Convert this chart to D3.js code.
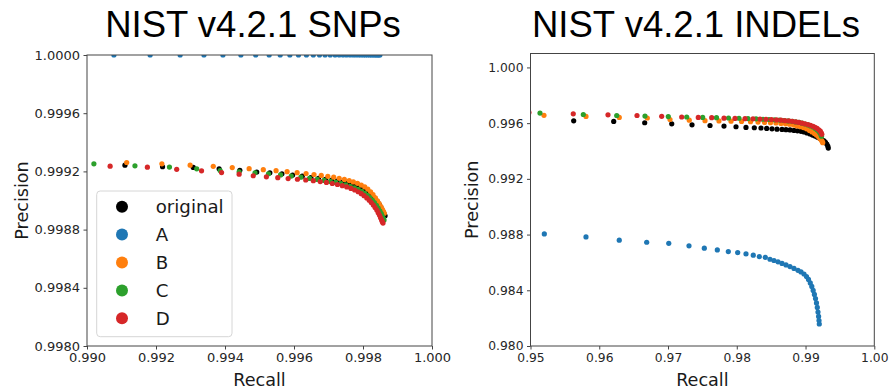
<!DOCTYPE html>
<html>
<head>
<meta charset="utf-8">
<script src="https://cdn.jsdelivr.net/npm/d3@7"></script>
<style>
  html, body { margin: 0; padding: 0; background: #fff; }
  svg { display: block; }
</style>
</head>
<body>
<div id="chart"></div>
<script>
const seriesNames = ['original', 'A', 'B', 'C', 'D'];

// SNP panel, points are [recall, precision]
const snpOriginal = [
  [0.99110, 0.999243], [0.99219, 0.999232], [0.99308, 0.999227], [0.99383, 0.999218], [0.99443, 0.999208],
  [0.99492, 0.999196], [0.99530, 0.999190], [0.99565, 0.999183], [0.99596, 0.999175], [0.99624, 0.999167],
  [0.99649, 0.999158], [0.99671, 0.999152], [0.99691, 0.999146], [0.99709, 0.999140], [0.99725, 0.999134],
  [0.99740, 0.999127], [0.99754, 0.999119], [0.99767, 0.999111], [0.99779, 0.999100], [0.99790, 0.999090],
  [0.99800, 0.999079], [0.99809, 0.999066], [0.99817, 0.999052], [0.99824, 0.999038], [0.99831, 0.999022],
  [0.99837, 0.999005], [0.99843, 0.998987], [0.99848, 0.998969], [0.99852, 0.998951], [0.99856, 0.998933],
  [0.99859, 0.998918], [0.99862, 0.998905], [0.99864, 0.998895]
];
const snpA = [
  [0.99078, 1], [0.99183, 1], [0.99270, 1], [0.99339, 1], [0.99394, 1], [0.99446, 1], [0.99489, 1],
  [0.99528, 1], [0.99560, 1], [0.99588, 1], [0.99613, 1], [0.99636, 1], [0.99656, 1], [0.99674, 1],
  [0.99690, 1], [0.99705, 1], [0.99719, 1], [0.99731, 1], [0.99742, 1], [0.99752, 1], [0.99762, 1],
  [0.99771, 1], [0.99779, 1], [0.99787, 1], [0.99794, 1], [0.99801, 1], [0.99807, 1], [0.99813, 1],
  [0.99819, 1], [0.99824, 1], [0.99829, 1], [0.99834, 1], [0.99838, 1], [0.99842, 1], [0.99846, 1],
  [0.99849, 1]
];
const snpB = [
  [0.99115, 0.999261], [0.99217, 0.999252], [0.99299, 0.999243], [0.99366, 0.999235], [0.99421, 0.999226],
  [0.99470, 0.999219], [0.99511, 0.999212], [0.99548, 0.999205], [0.99580, 0.999198], [0.99609, 0.999191],
  [0.99635, 0.999185], [0.99658, 0.999178], [0.99679, 0.999172], [0.99698, 0.999166], [0.99715, 0.999160],
  [0.99731, 0.999153], [0.99746, 0.999145], [0.99760, 0.999137], [0.99772, 0.999128], [0.99784, 0.999118],
  [0.99795, 0.999106], [0.99805, 0.999093], [0.99814, 0.999078], [0.99822, 0.999060], [0.99829, 0.999040],
  [0.99836, 0.999018], [0.99842, 0.998997], [0.99847, 0.998978], [0.99852, 0.998958], [0.99856, 0.998940],
  [0.99859, 0.998926], [0.99862, 0.998912]
];
const snpC = [
  [0.99020, 0.999252], [0.99139, 0.999238], [0.99239, 0.999230], [0.99318, 0.999218], [0.99386, 0.999206],
  [0.99441, 0.999197], [0.99487, 0.999190], [0.99526, 0.999184], [0.99561, 0.999176], [0.99592, 0.999168],
  [0.99620, 0.999160], [0.99645, 0.999152], [0.99667, 0.999145], [0.99687, 0.999138], [0.99705, 0.999131],
  [0.99721, 0.999124], [0.99736, 0.999116], [0.99750, 0.999107], [0.99763, 0.999097], [0.99775, 0.999087],
  [0.99786, 0.999076], [0.99796, 0.999063], [0.99805, 0.999049], [0.99813, 0.999035], [0.99820, 0.999020],
  [0.99827, 0.999003], [0.99833, 0.998985], [0.99839, 0.998966], [0.99844, 0.998947], [0.99849, 0.998928],
  [0.99853, 0.998910], [0.99856, 0.998893], [0.99859, 0.998878], [0.99861, 0.998866]
];
const snpD = [
  [0.99067, 0.999236], [0.99175, 0.999229], [0.99260, 0.999214], [0.99332, 0.999204], [0.99390, 0.999192],
  [0.99441, 0.999181], [0.99482, 0.999170], [0.99520, 0.999163], [0.99553, 0.999157], [0.99583, 0.999151],
  [0.99610, 0.999146], [0.99634, 0.999141], [0.99656, 0.999136], [0.99676, 0.999130], [0.99694, 0.999124],
  [0.99711, 0.999117], [0.99726, 0.999110], [0.99740, 0.999102], [0.99753, 0.999093], [0.99765, 0.999083],
  [0.99776, 0.999072], [0.99786, 0.999060], [0.99795, 0.999047], [0.99803, 0.999033], [0.99811, 0.999018],
  [0.99818, 0.999002], [0.99824, 0.998986], [0.99830, 0.998969], [0.99835, 0.998952], [0.99840, 0.998934],
  [0.99844, 0.998916], [0.99848, 0.998898], [0.99851, 0.998881], [0.99854, 0.998866], [0.99856, 0.998854],
  [0.99858, 0.998845]
];

// INDEL panel, points are [recall, precision]
const indelOriginal = [
  [0.95628, 0.99617], [0.96210, 0.99612], [0.96661, 0.99603], [0.97054, 0.99595], [0.97349, 0.99588],
  [0.97611, 0.99583], [0.97814, 0.99579], [0.97989, 0.99574], [0.98134, 0.99569], [0.98255, 0.99567],
  [0.98352, 0.99565], [0.98435, 0.99562], [0.98512, 0.99559], [0.98585, 0.99557], [0.98658, 0.99555],
  [0.98716, 0.99553], [0.98774, 0.99551], [0.98832, 0.99548], [0.98883, 0.99545], [0.98934, 0.99541],
  [0.98978, 0.99537], [0.99021, 0.99530], [0.99065, 0.99522], [0.99101, 0.99514], [0.99138, 0.99507],
  [0.99174, 0.99499], [0.99210, 0.99490], [0.99239, 0.99481], [0.99269, 0.99472], [0.99290, 0.99462],
  [0.99309, 0.99450], [0.99324, 0.99436], [0.99331, 0.99421]
];
const indelA = [
  [0.95201, 0.98805], [0.95807, 0.98783], [0.96291, 0.98760], [0.96690, 0.98745], [0.97011, 0.98737],
  [0.97305, 0.98719], [0.97528, 0.98702], [0.97717, 0.98690], [0.97877, 0.98678], [0.98013, 0.98671],
  [0.98134, 0.98661], [0.98240, 0.98652], [0.98328, 0.98642], [0.98415, 0.98637], [0.98483, 0.98623],
  [0.98541, 0.98614], [0.98600, 0.98604], [0.98658, 0.98593], [0.98716, 0.98582], [0.98774, 0.98570],
  [0.98832, 0.98557], [0.98890, 0.98543], [0.98934, 0.98532], [0.98978, 0.98517], [0.99014, 0.98499],
  [0.99043, 0.98478], [0.99069, 0.98453], [0.99091, 0.98428], [0.99111, 0.98399], [0.99129, 0.98370],
  [0.99145, 0.98341], [0.99159, 0.98309], [0.99171, 0.98277], [0.99181, 0.98244], [0.99190, 0.98212],
  [0.99196, 0.98183], [0.99200, 0.98158]
];
const indelB = [
  [0.95196, 0.99656], [0.95807, 0.99648], [0.96291, 0.99641], [0.96699, 0.99637], [0.97029, 0.99626],
  [0.97309, 0.99621], [0.97538, 0.99618], [0.97741, 0.99616], [0.97916, 0.99614], [0.98069, 0.99612],
  [0.98200, 0.99610], [0.98309, 0.99608], [0.98403, 0.99605], [0.98490, 0.99603], [0.98570, 0.99601],
  [0.98643, 0.99598], [0.98709, 0.99595], [0.98767, 0.99592], [0.98825, 0.99587], [0.98876, 0.99580],
  [0.98927, 0.99575], [0.98970, 0.99568], [0.99014, 0.99559], [0.99058, 0.99548], [0.99094, 0.99537],
  [0.99130, 0.99526], [0.99159, 0.99514], [0.99189, 0.99502], [0.99210, 0.99490], [0.99229, 0.99479],
  [0.99242, 0.99469], [0.99250, 0.99460]
];
const indelC = [
  [0.95138, 0.99672], [0.95768, 0.99662], [0.96254, 0.99655], [0.96665, 0.99651], [0.97004, 0.99647],
  [0.97272, 0.99644], [0.97504, 0.99641], [0.97705, 0.99639], [0.97880, 0.99637], [0.98032, 0.99635],
  [0.98163, 0.99633], [0.98280, 0.99631], [0.98381, 0.99628], [0.98469, 0.99626], [0.98549, 0.99624],
  [0.98621, 0.99622], [0.98687, 0.99619], [0.98745, 0.99616], [0.98803, 0.99613], [0.98854, 0.99609],
  [0.98905, 0.99605], [0.98949, 0.99600], [0.98992, 0.99594], [0.99036, 0.99587], [0.99072, 0.99580],
  [0.99109, 0.99572], [0.99138, 0.99563], [0.99167, 0.99552], [0.99191, 0.99541], [0.99210, 0.99529],
  [0.99225, 0.99516], [0.99232, 0.99506]
];
const indelD = [
  [0.94978, 0.99677], [0.95622, 0.99667], [0.96127, 0.99660], [0.96549, 0.99655], [0.96908, 0.99649],
  [0.97199, 0.99644], [0.97440, 0.99641], [0.97635, 0.99639], [0.97814, 0.99636], [0.97974, 0.99634],
  [0.98120, 0.99632], [0.98236, 0.99631], [0.98338, 0.99629], [0.98425, 0.99628], [0.98505, 0.99626],
  [0.98578, 0.99623], [0.98643, 0.99621], [0.98701, 0.99618], [0.98759, 0.99616], [0.98810, 0.99613],
  [0.98861, 0.99609], [0.98905, 0.99605], [0.98949, 0.99600], [0.98992, 0.99595], [0.99036, 0.99590],
  [0.99072, 0.99584], [0.99109, 0.99577], [0.99138, 0.99570], [0.99167, 0.99562], [0.99193, 0.99552],
  [0.99215, 0.99542], [0.99229, 0.99531], [0.99237, 0.99520]
];

const snpXTicks = [0.990, 0.992, 0.994, 0.996, 0.998, 1.000];
const snpYTicks = [0.9980, 0.9984, 0.9988, 0.9992, 0.9996, 1.0000];
const indelXTicks = [0.95, 0.96, 0.97, 0.98, 0.99, 1.00];
const indelYTicks = [0.980, 0.984, 0.988, 0.992, 0.996, 1.000];

const colors = ['#000000', '#1f77b4', '#ff7f0e', '#2ca02c', '#d62728'];
const labelFont = 'DejaVu Sans, sans-serif';

const svg = d3.select('#chart')
  .append('svg')
  .attr('width', 891)
  .attr('height', 390);

function drawPanel(p) {
  const x = d3.scaleLinear().domain(p.xDomain).range([p.left, p.right]);
  const y = d3.scaleLinear().domain(p.yDomain).range([p.bottom, p.top]);
  const g = svg.append('g');

  g.append('clipPath')
    .attr('id', p.id + '-clip')
    .append('rect')
    .attr('x', p.left)
    .attr('y', p.top)
    .attr('width', p.right - p.left)
    .attr('height', p.bottom - p.top);

  // scatter points, drawn in legend order so D ends up on top
  p.series.forEach((data, i) => {
    g.append('g')
      .attr('clip-path', `url(#${p.id}-clip)`)
      .selectAll('circle')
      .data(data)
      .join('circle')
      .attr('cx', d => x(d[0]))
      .attr('cy', d => y(d[1]))
      .attr('r', 2.6)
      .attr('fill', colors[i]);
  });

  const xAxis = d3.axisBottom(x)
    .tickValues(p.xTicks)
    .tickFormat(d3.format(p.xFmt))
    .tickSize(3.5)
    .tickPadding(3.5);
  const yAxis = d3.axisLeft(y)
    .tickValues(p.yTicks)
    .tickFormat(d3.format(p.yFmt))
    .tickSize(3.5)
    .tickPadding(3.5);

  const gx = g.append('g').attr('transform', `translate(0,${p.bottom})`).call(xAxis);
  const gy = g.append('g').attr('transform', `translate(${p.left},0)`).call(yAxis);
  [gx, gy].forEach(a => {
    a.select('.domain').remove();
    a.selectAll('line').attr('stroke', '#444');
    a.selectAll('text')
      .attr('fill', '#262626')
      .style('font-family', labelFont)
      .style('font-size', p.tickSize + 'px');
  });

  // frame
  g.append('rect')
    .attr('x', p.left)
    .attr('y', p.top)
    .attr('width', p.right - p.left)
    .attr('height', p.bottom - p.top)
    .attr('fill', 'none')
    .attr('stroke', '#444')
    .attr('stroke-width', 1);

  g.append('text')
    .attr('x', (p.left + p.right) / 2)
    .attr('y', 386)
    .attr('text-anchor', 'middle')
    .style('font-family', labelFont)
    .style('font-size', '17.6px')
    .attr('fill', '#1a1a1a')
    .text('Recall');

  g.append('text')
    .attr('transform', `translate(${p.yLabelX},${(p.top + p.bottom) / 2}) rotate(-90)`)
    .attr('text-anchor', 'middle')
    .style('font-family', labelFont)
    .style('font-size', '17.6px')
    .attr('fill', '#1a1a1a')
    .text('Precision');

  g.append('text')
    .attr('x', p.titleX)
    .attr('y', 37)
    .attr('text-anchor', 'middle')
    .style('font-family', 'Liberation Sans, Arial, sans-serif')
    .style('font-size', '36.5px')
    .attr('fill', '#000')
    .text(p.title);

  return g;
}

const snpPanel = drawPanel({
  id: 'snp', title: 'NIST v4.2.1 SNPs', titleX: 253,
  left: 87, right: 432, top: 55, bottom: 346,
  xDomain: [0.990, 1.000], yDomain: [0.998, 1.000],
  xTicks: snpXTicks, yTicks: snpYTicks, xFmt: '.3f', yFmt: '.4f',
  tickSize: 13, yLabelX: 28,
  series: [snpOriginal, snpA, snpB, snpC, snpD]
});

drawPanel({
  id: 'indel', title: 'NIST v4.2.1 INDELs', titleX: 696,
  left: 530.5, right: 874.3, top: 53.5, bottom: 346,
  xDomain: [0.95, 1.00], yDomain: [0.980, 1.001],
  xTicks: indelXTicks, yTicks: indelYTicks, xFmt: '.2f', yFmt: '.3f',
  tickSize: 12.3, yLabelX: 478,
  series: [indelOriginal, indelA, indelB, indelC, indelD]
});

// legend sits in the lower left of the SNP panel
const legend = snpPanel.append('g');
legend.append('rect')
  .attr('x', 96.7)
  .attr('y', 191)
  .attr('width', 135.3)
  .attr('height', 145.7)
  .attr('rx', 3.5)
  .attr('fill', '#fff')
  .attr('fill-opacity', 0.8)
  .attr('stroke', '#d6d6d6');

const entry = legend.selectAll('.entry')
  .data(seriesNames)
  .join('g')
  .attr('class', 'entry')
  .attr('transform', (d, i) => `translate(0,${206.7 + i * 27.9})`);

entry.append('circle')
  .attr('cx', 122)
  .attr('cy', 0)
  .attr('r', 6)
  .attr('fill', (d, i) => colors[i]);

entry.append('text')
  .attr('x', 155.7)
  .attr('y', 6.6)
  .style('font-family', labelFont)
  .style('font-size', '18.2px')
  .attr('fill', '#1a1a1a')
  .text(d => d);
</script>
</body>
</html>
